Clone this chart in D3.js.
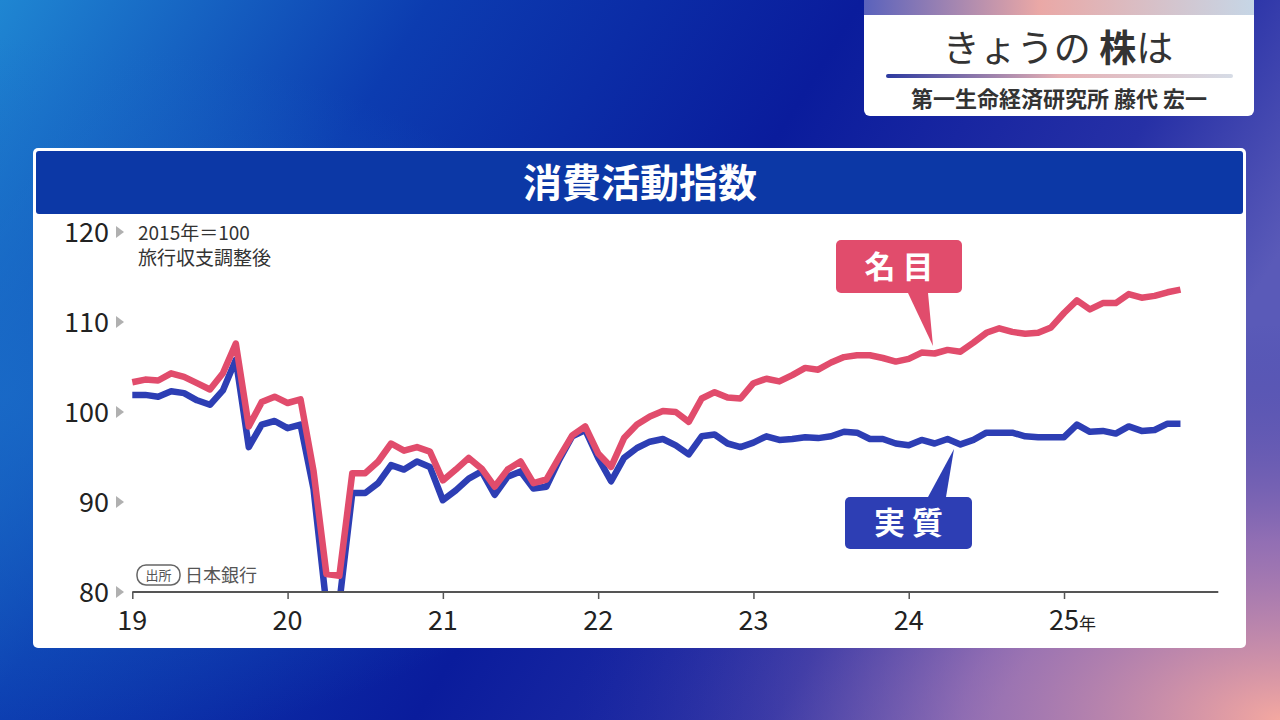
<!DOCTYPE html>
<html><head><meta charset="utf-8">
<script src="https://cdn.jsdelivr.net/npm/d3@7"></script>
<style>
html,body{margin:0;padding:0;background:#0a1c9a;}
svg{display:block;font-family:"Noto Sans CJK JP","Noto Sans",sans-serif;}
</style></head>
<body>
<svg id="c" width="1280" height="720"></svg>
<script>
// ---- data (monthly, Jan 2019 .. Oct 2025) ----
const startYear = 2019;
const nominal = [103.3,103.6,103.5,104.3,103.9,103.2,102.5,104.3,107.6,98.4,101.1,101.7,
  101.0,101.4,93.5,82.0,81.8,93.2,93.2,94.5,96.5,95.7,96.1,95.6,
  92.4,93.6,94.9,93.7,91.7,93.6,94.5,92.1,92.5,95.0,97.4,98.4,
  95.4,93.9,97.1,98.6,99.5,100.1,100.0,98.9,101.5,102.2,101.6,101.5,
  103.2,103.7,103.4,104.1,104.9,104.7,105.5,106.1,106.3,106.3,106.0,105.6,
  105.9,106.6,106.5,106.9,106.7,107.7,108.8,109.3,108.9,108.7,108.8,109.4,
  111.0,112.4,111.4,112.1,112.1,113.1,112.7,112.9,113.3,113.6];
const real = [101.9,101.9,101.7,102.3,102.1,101.3,100.8,102.4,105.8,96.1,98.6,99.0,
  98.2,98.6,91.5,78.5,78.8,91.0,91.0,92.1,94.1,93.6,94.5,93.9,
  90.2,91.3,92.6,93.4,90.8,92.8,93.4,91.5,91.7,94.7,97.3,98.0,
  94.9,92.3,94.9,96.0,96.7,97.0,96.3,95.3,97.3,97.5,96.5,96.1,
  96.6,97.3,96.9,97.0,97.2,97.1,97.3,97.8,97.7,97.0,97.0,96.5,
  96.3,96.9,96.5,97.0,96.4,96.9,97.7,97.7,97.7,97.3,97.2,97.2,
  97.2,98.6,97.8,97.9,97.6,98.4,97.9,98.0,98.7,98.7];
const yTicks = [80, 90, 100, 110, 120];
const xTickYears = [2019, 2020, 2021, 2022, 2023, 2024, 2025];
const xTickLabels = ["19", "20", "21", "22", "23", "24", "25"];
const seriesNames = ["名 目", "実 質"];
const chartTitle = "消費活動指数";
const unitNote = ["2015年＝100", "旅行収支調整後"];
const sourceText = "日本銀行";

const svg = d3.select("#c");
const defs = svg.append("defs");

// ---- background ----
const bg = defs.append("linearGradient").attr("id","bg").attr("x1","0").attr("y1","0").attr("x2","1").attr("y2","0.35");
bg.append("stop").attr("offset","0").attr("stop-color","#1f86d2");
bg.append("stop").attr("offset","0.3").attr("stop-color","#0c3cb0");
bg.append("stop").attr("offset","0.6").attr("stop-color","#0a1c9c");
bg.append("stop").attr("offset","0.85").attr("stop-color","#2630a6");
bg.append("stop").attr("offset","1").attr("stop-color","#5a5ab8");
svg.append("rect").attr("width",1280).attr("height",720).attr("fill","url(#bg)");
const pk = defs.append("radialGradient").attr("id","pk").attr("cx","1").attr("cy","1").attr("r","0.55");
pk.append("stop").attr("offset","0").attr("stop-color","#f4a8a0").attr("stop-opacity",1);
pk.append("stop").attr("offset","0.45").attr("stop-color","#c080b0").attr("stop-opacity",0.55);
pk.append("stop").attr("offset","1").attr("stop-color","#3030a0").attr("stop-opacity",0);
svg.append("rect").attr("width",1280).attr("height",720).attr("fill","url(#pk)");
const lb = defs.append("radialGradient").attr("id","lb").attr("cx","0").attr("cy","0.55").attr("r","0.5");
lb.append("stop").attr("offset","0").attr("stop-color","#1a6cc8").attr("stop-opacity",0.8);
lb.append("stop").attr("offset","1").attr("stop-color","#1a6cc8").attr("stop-opacity",0);
svg.append("rect").attr("width",1280).attr("height",720).attr("fill","url(#lb)");

// ---- header card (top right) ----
const strip = defs.append("linearGradient").attr("id","strip");
strip.append("stop").attr("offset","0").attr("stop-color","#5a62bc");
strip.append("stop").attr("offset","0.45").attr("stop-color","#eaa8a6");
strip.append("stop").attr("offset","1").attr("stop-color","#c6d6e6");
const hl = defs.append("linearGradient").attr("id","hl");
hl.append("stop").attr("offset","0").attr("stop-color","#2c3aa0");
hl.append("stop").attr("offset","0.5").attr("stop-color","#e6b0b4");
hl.append("stop").attr("offset","1").attr("stop-color","#d6dce6");
svg.append("rect").attr("x",864).attr("y",-10).attr("width",390).attr("height",126).attr("rx",6).attr("fill","#ffffff");
svg.append("rect").attr("x",864).attr("y",0).attr("width",390).attr("height",15).attr("fill","url(#strip)");
const ht = svg.append("text").attr("x",1058).attr("y",62).attr("text-anchor","middle")
  .attr("font-size",37).attr("fill","#333");
ht.append("tspan").text("きょうの ");
ht.append("tspan").attr("font-weight","bold").text("株");
ht.append("tspan").text("は");
svg.append("rect").attr("x",886).attr("y",74).attr("width",347).attr("height",4).attr("rx",2).attr("fill","url(#hl)");
svg.append("text").attr("x",1059).attr("y",107).attr("text-anchor","middle")
  .attr("font-size",22).attr("font-weight","bold").attr("fill","#333").text("第一生命経済研究所 藤代 宏一");

// ---- chart panel ----
svg.append("rect").attr("x",33).attr("y",148).attr("width",1213).attr("height",500).attr("rx",5)
  .attr("fill","#ffffff");
svg.append("rect").attr("x",36).attr("y",151).attr("width",1207).attr("height",63).attr("rx",3)
  .attr("fill","#0c38a6");
svg.append("text").attr("x",640).attr("y",197).attr("text-anchor","middle")
  .attr("font-size",39).attr("font-weight","bold").attr("fill","#ffffff").text(chartTitle);

// ---- scales ----
const x = d3.scaleLinear().domain([2019, 2026]).range([132.3, 1219.3]);
const y = d3.scaleLinear().domain([80, 120]).range([592, 232]);
const tx = i => x(startYear + i / 12);

// y tick labels + markers
const yg = svg.append("g");
yTicks.forEach(v => {
  yg.append("text").attr("x",109).attr("y",y(v)+10).attr("text-anchor","end")
    .attr("font-size",27).attr("fill","#222").text(v);
  yg.append("path").attr("d",`M116,${y(v)-6}L124,${y(v)}L116,${y(v)+6}Z`).attr("fill","#b0b0b0");
});

// notes
svg.append("text").attr("x",138).attr("y",240).attr("font-size",19).attr("fill","#333").text(unitNote[0]);
svg.append("text").attr("x",138).attr("y",265).attr("font-size",19).attr("fill","#333").text(unitNote[1]);

// source
svg.append("rect").attr("x",137).attr("y",565).attr("width",43).attr("height",20).attr("rx",9)
  .attr("fill","none").attr("stroke","#666").attr("stroke-width",1.5);
svg.append("text").attr("x",158.5).attr("y",580).attr("text-anchor","middle").attr("font-size",13).attr("fill","#555").text("出所");
svg.append("text").attr("x",185).attr("y",582).attr("font-size",18).attr("fill","#555").text(sourceText);

// clip
defs.append("clipPath").attr("id","clip").append("rect").attr("x",120).attr("y",215).attr("width",1110).attr("height",377);

const line = d3.line().x((d,i) => tx(i)).y(d => y(d)).curve(d3.curveLinear);
const lg = svg.append("g").attr("clip-path","url(#clip)");
lg.append("path").datum(real).attr("d",line).attr("fill","none").attr("stroke","#2d3eb4")
  .attr("stroke-width",6.5).attr("stroke-linejoin","round");
lg.append("path").datum(nominal).attr("d",line).attr("fill","none").attr("stroke","#e14c6c")
  .attr("stroke-width",6.5).attr("stroke-linejoin","round");

// x axis
const xa = svg.append("g").attr("transform","translate(0,592)");
xa.call(d3.axisBottom(x).tickValues(xTickYears).tickSize(7).tickFormat(""));
xa.select(".domain").attr("stroke","#555").attr("stroke-width",2).attr("d",`M${x(2019)},0H${x(2026)-1}`);
xa.selectAll(".tick line").attr("stroke","#555").attr("stroke-width",1.5);
xTickYears.forEach((yr,k) => {
  const t = svg.append("text").attr("x",x(yr)).attr("y",630).attr("text-anchor","middle")
    .attr("font-size",27).attr("fill","#222");
  t.append("tspan").text(xTickLabels[k]);
  if (k === xTickYears.length-1) {
    t.attr("text-anchor","start").attr("x",x(yr)-15);
    t.append("tspan").attr("font-size",17).text("年");
  }
});

// callouts
function callout(bx,by,bw,bh,base1,base2,apx,apy,color,label){
  const g = svg.append("g");
  const baseY = apy < by ? by : by+bh;
  g.append("path").attr("d",`M${base1},${baseY}L${apx},${apy}L${base2},${baseY}Z`).attr("fill",color);
  g.append("rect").attr("x",bx).attr("y",by).attr("width",bw).attr("height",bh).attr("rx",5).attr("fill",color);
  g.append("text").attr("x",bx+bw/2).attr("y",by+bh/2+11).attr("text-anchor","middle")
    .attr("font-size",31).attr("font-weight","bold").attr("fill","#fff").text(label);
}
callout(836,240,126,53,908,928,933,346,"#e14c6c",seriesNames[0]);
callout(845,497,127,52,928,946,954,449,"#2d3eb4",seriesNames[1]);
</script>
</body></html>
